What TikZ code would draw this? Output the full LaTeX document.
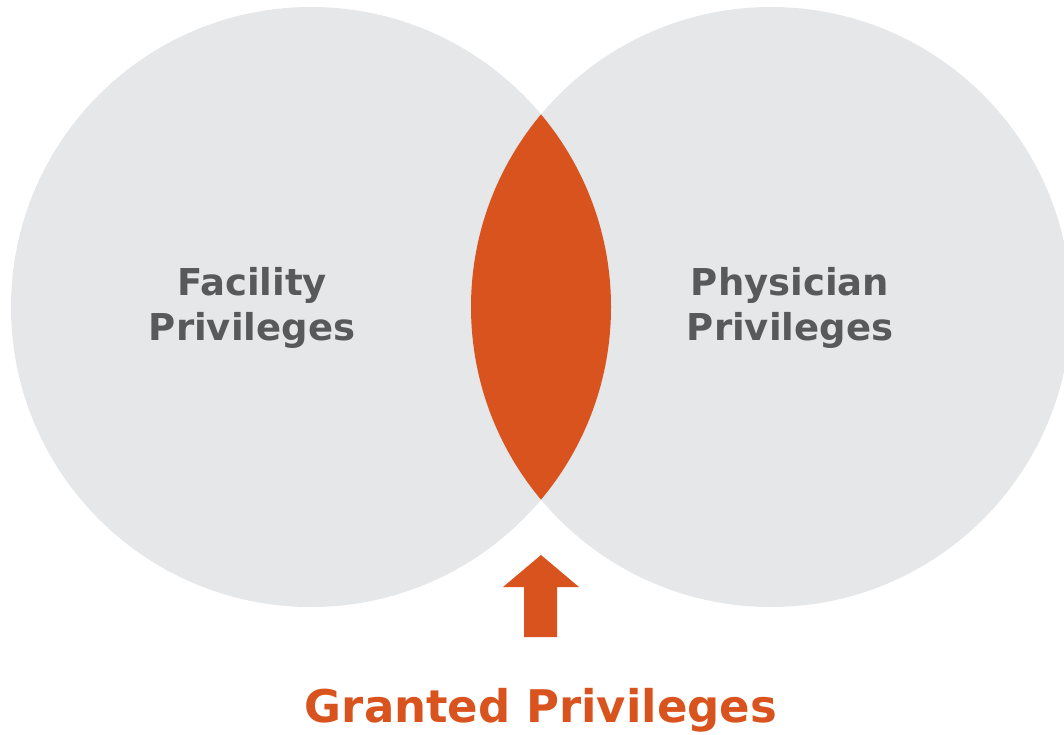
\documentclass[tikz,border=0pt]{standalone}
\usepackage{fontspec}
\setmainfont{DejaVu Sans}
\definecolor{circlegray}{HTML}{E6E7E8}
\definecolor{lensorange}{HTML}{D9531E}
\definecolor{labelgray}{HTML}{58595B}
\begin{document}
\begin{tikzpicture}[x=1pt,y=-1pt,
  circlelabel/.style={font=\bfseries\fontsize{37}{44}\selectfont, text=labelgray, anchor=base, inner sep=0pt},
  resultlabel/.style={font=\bfseries\fontsize{45}{54}\selectfont, text=lensorange, anchor=base, inner sep=0pt}]
  \useasboundingbox (0,0) rectangle (1064,734);
  % the two sets
  \fill[circlegray] (311,307) circle[radius=300];
  \fill[circlegray] (771,307) circle[radius=300];
  % their overlap
  \begin{scope}
    \clip (311,307) circle[radius=300];
    \fill[lensorange] (771,307) circle[radius=300];
  \end{scope}
  % labels of the sets
  \node[circlelabel] (fac1) at (252,295) {Facility};
  \node[circlelabel] (fac2) at (252,340) {Privileges};
  \node[circlelabel] (phy1) at (790,295) {Physician};
  \node[circlelabel] (phy2) at (790,340) {Privileges};
  % block arrow pointing up at the overlap
  \fill[lensorange] (524,637) -- (524,587) -- (503,587) -- (541,555)
    -- (579,587) -- (557,587) -- (557,637) -- cycle;
  \node[resultlabel] (granted) at (541,722) {Granted Privileges};
\end{tikzpicture}
\end{document}
